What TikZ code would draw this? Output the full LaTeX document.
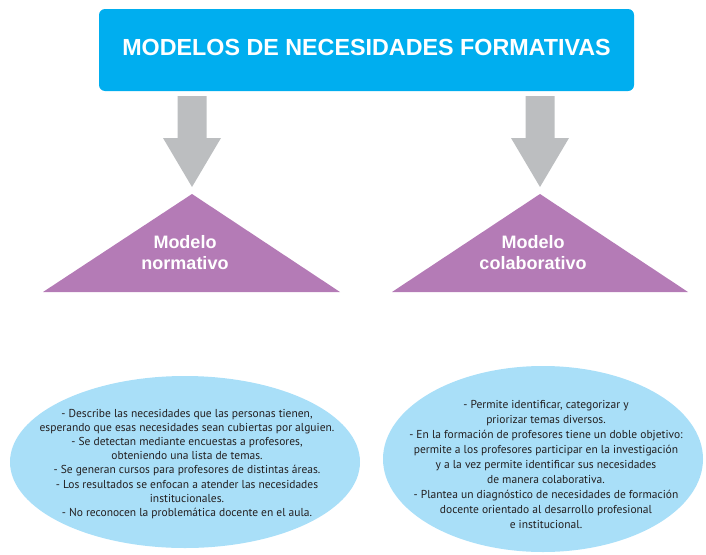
\documentclass[tikz,border=0pt]{standalone}
\usepackage{fontspec}
\setmainfont{Liberation Sans}
\newfontfamily\textofont{PT Sans}
\usetikzlibrary{shapes.geometric}

\definecolor{cian}{HTML}{00AEEF}
\definecolor{gris}{HTML}{BCBEC0}
\definecolor{morado}{HTML}{B47BB6}
\definecolor{celeste}{HTML}{A9DFF8}
\definecolor{tinta}{HTML}{231F20}

\begin{document}
\begin{tikzpicture}[x=1pt,y=-1pt,
    titulo/.style={fill=cian, rounded corners=6pt, minimum width=535pt, minimum height=82pt,
      text depth=5pt, text=white, font=\fontsize{23.3}{28}\selectfont\bfseries},
    modelo/.style={text=white, align=center, font=\fontsize{18}{21}\selectfont\bfseries},
    texto/.style={text=tinta, align=center, inner sep=0pt},
    flecha/.style={fill=gris}]
    \useasboundingbox (0,0) rectangle (706,554);

    \node[titulo] (titulo) at (366.5,50) {MODELOS DE NECESIDADES FORMATIVAS};

    % flechas grises
    \foreach \cx in {192,540}
        \fill[flecha] (\cx-14.5,96) -- (\cx+14.5,96) -- (\cx+14.5,138) -- (\cx+29,138)
            -- (\cx,187) -- (\cx-29,138) -- (\cx-14.5,138) -- cycle;

    % triangulos
    \fill[morado] (192,194) -- (340,292) -- (43,292) -- cycle;
    \fill[morado] (540,194) -- (688,292) -- (392,292) -- cycle;
    \node[modelo] (normativo) at (185,253) {Modelo\\normativo};
    \node[modelo] (colaborativo) at (533,253) {Modelo\\colaborativo};

    % elipses
    \fill[celeste] (185,462) ellipse [x radius=175, y radius=86];
    \fill[celeste] (543,459) ellipse [x radius=160, y radius=93];
    \node[texto, font=\textofont\fontsize{11.5}{14.1}\selectfont] (descN) at (187,464)
        {- Describe las necesidades que las personas tienen,\\
         esperando que esas necesidades sean cubiertas por alguien.\\
         - Se detectan mediante encuestas a profesores,\\
         obteniendo una lista de temas.\\
         - Se generan cursos para profesores de distintas áreas.\\
         - Los resultados se enfocan a atender las necesidades\\
         institucionales.\\
         - No reconocen la problemática docente en el aula.};
    \node[texto, font=\textofont\fontsize{11.5}{15}\selectfont] (descC) at (546,464)
        {- Permite identificar, categorizar y\\
         priorizar temas diversos.\\
         - En la formación de profesores tiene un doble objetivo:\\
         permite a los profesores participar en la investigación\\
         y a la vez permite identificar sus necesidades\\
         de manera colaborativa.\\
         - Plantea un diagnóstico de necesidades de formación\\
         docente orientado al desarrollo profesional\\
         e institucional.};
\end{tikzpicture}
\end{document}
